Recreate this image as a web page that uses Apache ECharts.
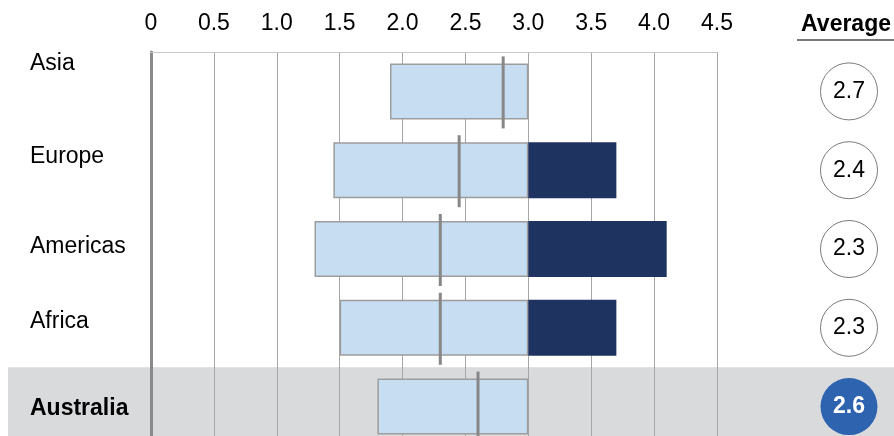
<!DOCTYPE html>
<html>
<head>
<meta charset="utf-8">
<script src="https://cdn.jsdelivr.net/npm/echarts@6/dist/echarts.min.js"></script>
<style>
  html, body { margin: 0; padding: 0; background: #fff; }
  #chart { width: 894px; height: 436px; }
</style>
</head>
<body>
<div id="chart"></div>
<script>
// Regions, top to bottom
const categories = ['Asia', 'Europe', 'Americas', 'Africa', 'Australia'];
// Range of scores per region: low end, split point, high end
const rangeLow  = [1.9, 1.45, 1.3, 1.5, 1.8];
const splitAt   = [3.0, 3.0, 3.0, 3.0, 3.0];
const rangeHigh = [3.0, 3.7, 4.1, 3.7, 3.0];
// Median marker per region
const markerValues = [2.8, 2.45, 2.3, 2.3, 2.6];
// Average shown in the right-hand column
const averages = [2.7, 2.4, 2.3, 2.3, 2.6];
// Scale labels
const tickLabels = ['0', '0.5', '1.0', '1.5', '2.0', '2.5', '3.0', '3.5', '4.0', '4.5'];
const highlight = 'Australia';

const FONT = 'Liberation Sans, Arial, sans-serif';
const FS = 23;
const GRID_TOP = 52, GRID_H = 394;

// Per-region label styling (vertical nudge via padding)
const labelRich = {
  Asia:      { fontSize: FS, color: '#000', padding: [0, 0, 56, 0] },
  Europe:    { fontSize: FS, color: '#000', padding: [0, 0, 27, 0] },
  Americas:  { fontSize: FS, color: '#000', padding: [0, 0, 4, 0] },
  Africa:    { fontSize: FS, color: '#000', padding: [0, 0, 12, 0] },
  Australia: { fontSize: FS, color: '#000', fontWeight: 'bold', padding: [4, 0, 0, 0] }
};

const chart = echarts.init(document.getElementById('chart'), null, { renderer: 'canvas' });

const option = {
  animation: false,
  textStyle: { fontFamily: FONT },
  title: {
    text: 'Average',
    right: -2,
    top: 8,
    textStyle: { fontFamily: FONT, fontSize: FS, fontWeight: 'bold', color: '#000' }
  },
  grid: [
    { left: 151, right: 177, top: GRID_TOP, height: GRID_H, containLabel: false, outerBoundsMode: 'none' },
    { left: 819, width: 60, top: GRID_TOP, height: GRID_H, containLabel: false, outerBoundsMode: 'none' }
  ],
  xAxis: [
    {
      gridIndex: 0,
      type: 'value',
      position: 'top',
      min: 0, max: 4.5, interval: 0.5,
      axisLine: { show: true, lineStyle: { color: '#c8c8c8', width: 1 } },
      axisTick: { show: false },
      splitLine: { show: true, lineStyle: { color: '#a6a6a6', width: 1 } },
      axisLabel: {
        margin: 17,
        fontSize: FS,
        color: '#000',
        fontFamily: FONT,
        formatter: (v, i) => tickLabels[i]
      }
    },
    { gridIndex: 1, type: 'value', min: -1, max: 1, show: false }
  ],
  yAxis: [
    {
      gridIndex: 0,
      type: 'category',
      inverse: true,
      data: categories,
      axisLine: { show: true, lineStyle: { color: '#8a8a8a', width: 3 } },
      axisTick: { show: false },
      splitLine: { show: false },
      axisLabel: {
        align: 'left',
        margin: 121,
        fontFamily: FONT,
        formatter: (name) => '{' + name + '|' + name + '}',
        rich: labelRich
      }
    },
    { gridIndex: 1, type: 'category', inverse: true, data: categories, show: false }
  ],
  series: [
    {
      name: 'base',
      type: 'bar',
      stack: 'range',
      barWidth: 56,
      silent: true,
      itemStyle: { color: 'rgba(0,0,0,0)' },
      data: rangeLow
    },
    {
      name: 'lower',
      type: 'bar',
      stack: 'range',
      barWidth: 56,
      itemStyle: { color: '#c7ddf1', borderColor: '#9d9d9d', borderWidth: 1.5 },
      data: splitAt.map((s, i) => +(s - rangeLow[i]).toFixed(3))
    },
    {
      name: 'upper',
      type: 'bar',
      stack: 'range',
      barWidth: 56,
      itemStyle: { color: '#1f3360' },
      data: rangeHigh.map((h, i) => +(h - splitAt[i]).toFixed(3))
    },
    {
      name: 'marker',
      type: 'scatter',
      symbol: 'rect',
      symbolSize: [3, 72],
      symbolOffset: [0, 1],
      z: 5,
      itemStyle: { color: '#878787', opacity: 1 },
      data: markerValues.map((v, i) => [v, categories[i]])
    },
    {
      name: 'average',
      type: 'scatter',
      xAxisIndex: 1,
      yAxisIndex: 1,
      symbol: 'circle',
      symbolSize: 57,
      z: 5,
      label: {
        show: true,
        position: 'inside',
        fontFamily: FONT,
        fontSize: FS,
        color: '#000',
        formatter: (p) => p.data.avg.toFixed(1)
      },
      data: averages.map((a, i) => {
        const hi = categories[i] === highlight;
        return {
          value: [0, categories[i]],
          avg: a,
          itemStyle: hi
            ? { color: '#2e63b0', borderWidth: 0, opacity: 1 }
            : { color: '#fff', borderColor: '#7a7a7a', borderWidth: 1, opacity: 1 },
          label: hi ? { color: '#fff', fontWeight: 'bold' } : undefined
        };
      })
    }
  ]
};

chart.setOption(option);

// Header underline and highlighted-row band, positioned from the axis scale
const bandH = GRID_H / categories.length;
const hiCenter = chart.convertToPixel({ yAxisIndex: 0 }, highlight);
chart.setOption({
  graphic: [
    {
      type: 'rect',
      z: -10,
      silent: true,
      shape: { x: 8, y: hiCenter - bandH / 2, width: 886, height: bandH + 20 },
      style: { fill: '#d9dadc' }
    },
    {
      type: 'line',
      silent: true,
      shape: { x1: 797, y1: 40, x2: 894, y2: 40 },
      style: { stroke: '#777', lineWidth: 2 }
    }
  ]
});
</script>
</body>
</html>
